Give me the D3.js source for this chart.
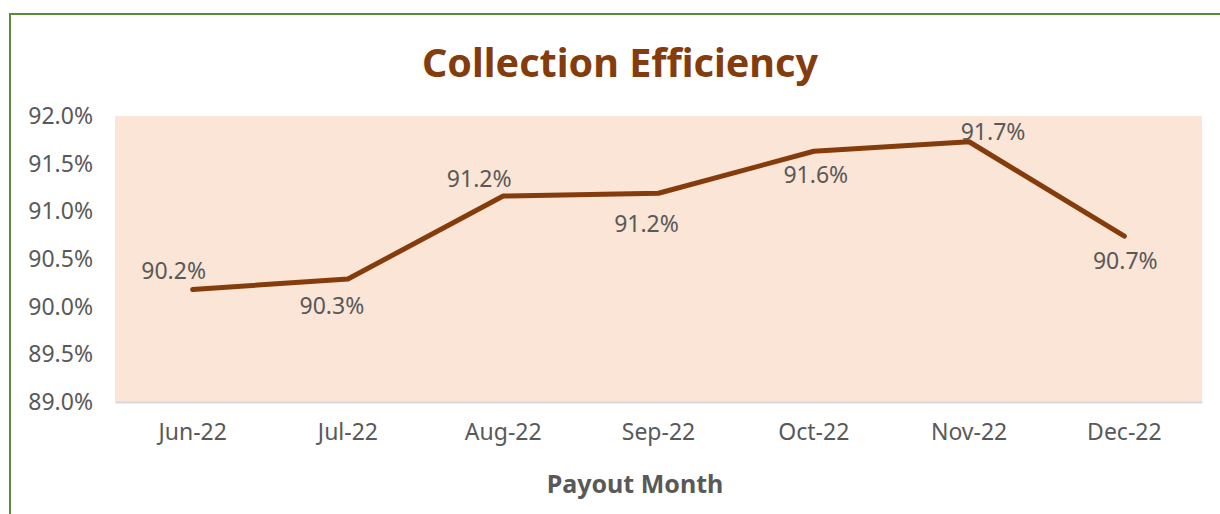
<!DOCTYPE html>
<html><head><meta charset="utf-8">
<script src="https://cdn.jsdelivr.net/npm/d3@7"></script>
<style>
html,body{margin:0;padding:0;background:#fff;}
svg{display:block;}
text{font-family:"Noto Sans","DejaVu Sans",sans-serif;}
</style></head>
<body>
<script>
const months = ["Jun-22","Jul-22","Aug-22","Sep-22","Oct-22","Nov-22","Dec-22"];
const efficiency = [90.18, 90.29, 91.16, 91.19, 91.63, 91.73, 90.74];
const yTicks = [89.0, 89.5, 90.0, 90.5, 91.0, 91.5, 92.0];
const labelOffsets = [[-19,-20],[-16,26],[-24,-18],[-12,30],[2,23],[24,-11],[1,24]];

const W = 1220, H = 514;
const plot = {left:115, right:1202, top:116, bottom:402};
const svg = d3.select("body").append("svg").attr("width",W).attr("height",H);

// outer border
svg.append("rect").attr("x",10).attr("y",14).attr("width",1230).attr("height",530)
  .attr("fill","#fff").attr("stroke","#5B8A3A").attr("stroke-width",2);

const x = d3.scaleBand().domain(months).range([plot.left, plot.right]);
const y = d3.scaleLinear().domain([89,92]).range([plot.bottom, plot.top]);

svg.append("rect").attr("x",plot.left).attr("y",plot.top)
  .attr("width",plot.right-plot.left).attr("height",plot.bottom-plot.top).attr("fill","#FBE5D6");

const fs = "23px";
// y axis
const ya = svg.append("g").attr("transform",`translate(${plot.left},0)`)
  .call(d3.axisLeft(y).tickValues(yTicks).tickFormat(d=>d3.format(".1f")(d)+"%").tickSize(0).tickPadding(22));
ya.select(".domain").remove();
ya.selectAll("text").attr("fill","#595959").style("font-size",fs).style("font-family",'"Noto Sans",sans-serif');

// x axis
const xa = svg.append("g").attr("transform",`translate(0,${plot.bottom})`)
  .call(d3.axisBottom(x).tickSize(0).tickPadding(22));
xa.select(".domain").attr("stroke","#D9D9D9").attr("stroke-width",2);
xa.selectAll("text").attr("fill","#595959").style("font-size",fs).style("font-family",'"Noto Sans",sans-serif');

// line
const line = d3.line().x((d,i)=>x(months[i])+x.bandwidth()/2).y(d=>y(d));
svg.append("path").datum(efficiency).attr("d",line).attr("fill","none")
  .attr("stroke","#843C0C").attr("stroke-width",5).attr("stroke-linecap","round").attr("stroke-linejoin","round");

// data labels
svg.append("g").selectAll("text").data(efficiency).join("text")
  .attr("x",(d,i)=>x(months[i])+x.bandwidth()/2+labelOffsets[i][0])
  .attr("y",(d,i)=>y(d)+labelOffsets[i][1])
  .attr("text-anchor","middle").attr("dominant-baseline","central")
  .attr("fill","#595959").style("font-size",fs)
  .text(d=>d3.format(".1f")(d)+"%");

// title
svg.append("text").attr("x",620).attr("y",62).attr("text-anchor","middle").attr("dominant-baseline","central")
  .attr("fill","#843C0C").style("font-size","39.5px").style("font-weight","bold").text("Collection Efficiency");

// x axis title
svg.append("text").attr("x",635).attr("y",483).attr("text-anchor","middle").attr("dominant-baseline","central")
  .attr("fill","#595959").style("font-size","25px").style("font-weight","bold").text("Payout Month");
</script>
</body></html>
